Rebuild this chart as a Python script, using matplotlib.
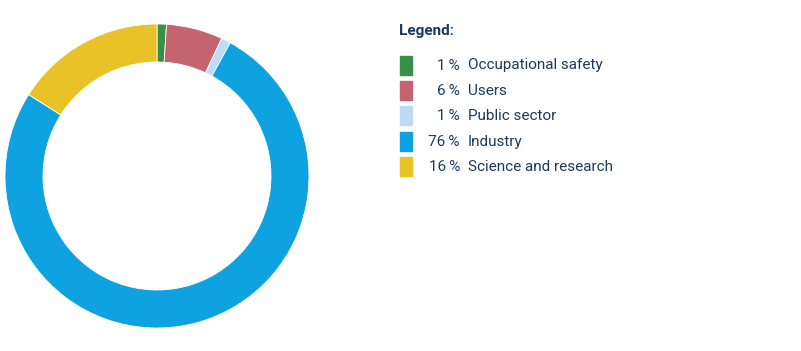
import matplotlib.pyplot as plt
from matplotlib.patches import Rectangle

# ── Data ──────────────────────────────────────────────────────────────────────
labels = ["Occupational safety", "Users", "Public sector", "Industry", "Science and research"]
values = [1, 6, 1, 76, 16]
colors = ["#3a8f46", "#c5646e", "#bfdaf5", "#0ea2e0", "#e9c227"]

TEXT = "#1d3a5c"
plt.rcParams["font.family"] = ["Roboto", "DejaVu Sans"]

W, H = 801, 351
fig = plt.figure(figsize=(W / 100, H / 100), dpi=100)

# ── Donut ─────────────────────────────────────────────────────────────────────
cx, cy, r = 157, 176, 152
ax = fig.add_axes([(cx - r) / W, (H - cy - r) / H, 2 * r / W, 2 * r / H])
ax.pie(values, colors=colors, startangle=90, counterclock=False, radius=1,
       wedgeprops=dict(width=0.25, edgecolor="white", linewidth=0.6))
ax.set_xlim(-1, 1)
ax.set_ylim(-1, 1)
ax.set_aspect("equal")
ax.axis("off")

# ── Legend ────────────────────────────────────────────────────────────────────
lax = fig.add_axes([0, 0, 1, 1])
lax.set_xlim(0, W)
lax.set_ylim(H, 0)
lax.axis("off")

FS = 11
lax.text(399, 31, "Legend:", fontsize=FS, fontweight="bold", color=TEXT, va="center")
y0, dy = 65.5, 25.4
for i, (lab, val, col) in enumerate(zip(labels, values, colors)):
    y = y0 + i * dy
    lax.add_patch(Rectangle((400, y - 10), 12, 19, color=col))
    lax.text(460, y, f"{val}\u2009%", fontsize=FS, color=TEXT, ha="right", va="center")
    lax.text(468, y, lab, fontsize=FS, color=TEXT, ha="left", va="center")

fig.savefig("out.png", dpi=100)
